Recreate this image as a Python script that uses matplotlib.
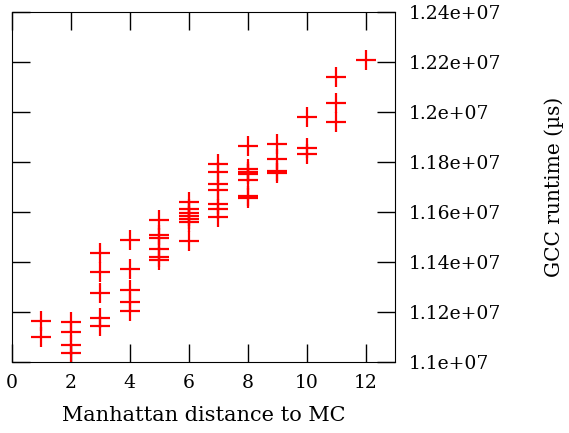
import matplotlib
matplotlib.use('Agg')
import matplotlib.pyplot as plt
from matplotlib.ticker import FuncFormatter

plt.rcParams['font.family'] = ['DejaVu Serif']

# distance to MC and measured GCC runtime (us)
dist = [1, 1,
        2, 2, 2, 2,
        3, 3, 3, 3, 3,
        4, 4, 4, 4, 4,
        5, 5, 5, 5, 5, 5,
        6, 6, 6, 6, 6, 6, 6,
        7, 7, 7, 7, 7, 7, 7,
        8, 8, 8, 8, 8, 8, 8,
        9, 9, 9, 9,
        10, 10, 10,
        11, 11, 11,
        12]
runtime = [1.1165e7, 1.1101e7,
           1.1161e7, 1.1121e7, 1.1068e7, 1.1037e7,
           1.1435e7, 1.1361e7, 1.1277e7, 1.1177e7, 1.1144e7,
           1.1488e7, 1.1371e7, 1.1288e7, 1.1239e7, 1.1205e7,
           1.1568e7, 1.1508e7, 1.1496e7, 1.1452e7, 1.1419e7, 1.1408e7,
           1.1640e7, 1.1612e7, 1.1596e7, 1.1584e7, 1.1572e7, 1.1560e7, 1.1484e7,
           1.1792e7, 1.1759e7, 1.1712e7, 1.1689e7, 1.1631e7, 1.1611e7, 1.1579e7,
           1.1864e7, 1.1772e7, 1.1760e7, 1.1752e7, 1.1728e7, 1.1664e7, 1.1656e7,
           1.1871e7, 1.1811e7, 1.1765e7, 1.1757e7,
           1.1981e7, 1.1857e7, 1.1832e7,
           1.2139e7, 1.2035e7, 1.1961e7,
           1.2208e7]

fig = plt.figure(figsize=(5.69, 4.33), dpi=100)
ax = fig.add_axes([12 / 569, 71 / 433, 383 / 569, 350 / 433])

ax.plot(dist, runtime, linestyle='none', marker='+', color='red',
        markersize=14, markeredgewidth=1.6)

ax.set_xlim(0, 13)
ax.set_ylim(1.1e7, 1.24e7)
ax.set_xticks(range(0, 13, 2))
ax.set_yticks([1.1e7 + i * 0.02e7 for i in range(8)])
ax.yaxis.set_major_formatter(FuncFormatter(lambda v, p: '{:g}'.format(v)))

ax.yaxis.tick_right()
ax.yaxis.set_label_position('right')
ax.tick_params(direction='in', length=13, width=1, top=True, bottom=True,
               left=True, right=True, labelsize=13.5, color='black')
ax.tick_params(axis='y', pad=10)
ax.tick_params(axis='x', pad=9)

ax.set_xlabel('Manhattan distance to MC', fontsize=15, labelpad=10)
ax.set_ylabel('GCC runtime (µs)', fontsize=14.5, labelpad=31)

fig.savefig('out.png', dpi=100)
